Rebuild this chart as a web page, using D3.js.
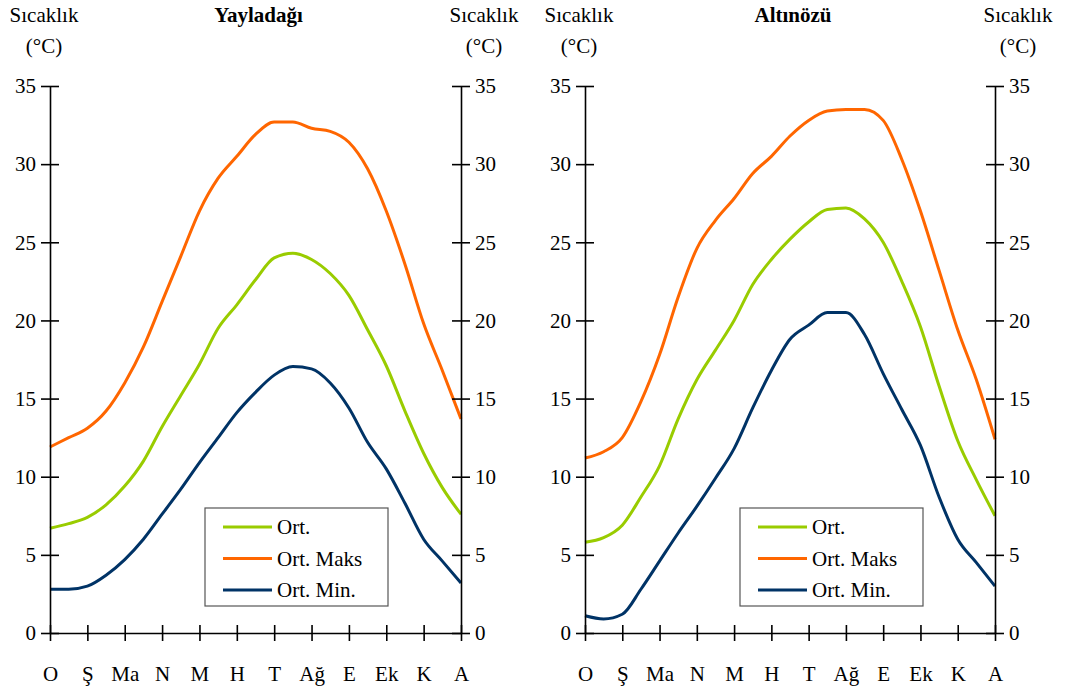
<!DOCTYPE html>
<html>
<head>
<meta charset="utf-8">
<script src="https://cdn.jsdelivr.net/npm/d3@7"></script>
<style>
  body { margin: 0; background: #fff; }
  svg text { font-family: "Liberation Serif", "DejaVu Serif", serif; fill: #000; }
</style>
</head>
<body>
<div id="chart"></div>
<script>
// month labels (x axis)
const months = ["O", "Ş", "Ma", "N", "M", "H", "T", "Ağ", "E", "Ek", "K", "A"];
const yTicks = [0, 5, 10, 15, 20, 25, 30, 35];

// half-month readings, from O to A
const yayOrt  = [6.7, 7.0, 7.4, 8.2, 9.4, 11.0, 13.2, 15.2, 17.2, 19.5, 21.0, 22.6, 24.0, 24.3, 23.9, 23.0, 21.6, 19.4, 17.1, 14.2, 11.5, 9.3, 7.6];
const yayMaks = [11.9, 12.5, 13.1, 14.2, 16.0, 18.3, 21.2, 24.1, 27.0, 29.1, 30.5, 31.9, 32.7, 32.7, 32.3, 32.1, 31.4, 29.7, 27.0, 23.6, 19.8, 16.8, 13.7];
const yayMin  = [2.8, 2.8, 3.0, 3.7, 4.7, 6.0, 7.6, 9.2, 10.9, 12.5, 14.1, 15.4, 16.5, 17.05, 16.9, 16.0, 14.4, 12.2, 10.5, 8.3, 6.0, 4.6, 3.2];

const altOrt  = [5.8, 6.1, 6.9, 8.7, 10.7, 13.7, 16.2, 18.1, 20.0, 22.3, 23.9, 25.2, 26.3, 27.1, 27.2, 26.5, 25.0, 22.5, 19.6, 15.8, 12.3, 9.8, 7.5];
const altMaks = [11.2, 11.6, 12.5, 14.8, 17.8, 21.5, 24.6, 26.4, 27.8, 29.4, 30.5, 31.8, 32.8, 33.4, 33.5, 33.5, 32.8, 30.3, 27.0, 23.2, 19.4, 16.2, 12.4];
const altMin  = [1.1, 0.9, 1.2, 2.8, 4.6, 6.4, 8.1, 9.9, 11.8, 14.4, 16.8, 18.8, 19.7, 20.5, 20.5, 19.1, 16.6, 14.3, 12.0, 8.7, 6.0, 4.5, 3.0];

const seriesNames = ["Ort.", "Ort. Maks", "Ort. Min."];
const colors = ["#99cc00", "#ff6600", "#003366"];

const width = 1066, height = 693;
const fontSize = "21px";
const svg = d3.select("#chart").append("svg")
  .attr("width", width)
  .attr("height", height);

const y = d3.scaleLinear().domain([0, 35]).range([633, 86]);

const drawPanel = (title, left, right, series) => {
  const x = d3.scaleLinear().domain([0, months.length - 1]).range([left, right]);
  const g = svg.append("g");

  // lines first, axes on top
  const line = d3.line()
    .x((d, i) => x(i / 2))
    .y(d => y(d))
    .curve(d3.curveMonotoneX);

  series.forEach((s, k) => {
    g.append("path")
      .datum(s)
      .attr("fill", "none")
      .attr("stroke", colors[k])
      .attr("stroke-width", 3)
      .attr("stroke-linejoin", "round")
      .attr("d", line);
  });

  // y axes on both sides, ticks cross the line
  const yLeft = g.append("g").attr("transform", `translate(${left},0)`)
    .call(d3.axisLeft(y).tickValues(yTicks).tickSizeInner(9).tickSizeOuter(0).tickPadding(5));
  yLeft.selectAll(".tick line").attr("x2", 9).attr("x1", -9);

  const yRight = g.append("g").attr("transform", `translate(${right},0)`)
    .call(d3.axisRight(y).tickValues(yTicks).tickSizeInner(9).tickSizeOuter(0).tickPadding(5));
  yRight.selectAll(".tick line").attr("x1", -9).attr("x2", 9);

  // x axis
  const xAxis = g.append("g").attr("transform", `translate(0,${y(0)})`)
    .call(d3.axisBottom(x).ticks(12).tickFormat(i => months[i]).tickSizeInner(8).tickSizeOuter(0).tickPadding(25));
  xAxis.selectAll(".tick line").attr("y1", -8).attr("y2", 8);

  g.selectAll(".domain").attr("stroke", "#000").attr("stroke-width", 1.6);
  g.selectAll(".tick line").attr("stroke", "#000").attr("stroke-width", 1.6);
  g.selectAll(".tick text").style("font-size", fontSize).attr("fill", "#000");
  [yLeft, yRight, xAxis].forEach(a => a.attr("font-family", null));
  yLeft.selectAll(".tick text").attr("dy", "0.32em");
  yRight.selectAll(".tick text").attr("dy", "0.32em");

  // axis titles
  [left - 6, right + 23].forEach(cx => {
    g.append("text").attr("x", cx).attr("y", 22).attr("text-anchor", "middle")
      .style("font-size", fontSize).text("Sıcaklık");
    g.append("text").attr("x", cx).attr("y", 53).attr("text-anchor", "middle")
      .style("font-size", fontSize).text("(°C)");
  });

  g.append("text").attr("x", (left + right) / 2 + 3).attr("y", 22)
    .attr("text-anchor", "middle")
    .style("font-size", fontSize).style("font-weight", "bold")
    .text(title);

  // legend
  const lg = g.append("g").attr("transform", `translate(${left + 155},508)`);
  lg.append("rect").attr("width", 183).attr("height", 98)
    .attr("fill", "#fff").attr("stroke", "#555").attr("stroke-width", 1.2);
  seriesNames.forEach((name, k) => {
    const ry = 19 + k * 31.5;
    lg.append("line").attr("x1", 18).attr("x2", 67).attr("y1", ry).attr("y2", ry)
      .attr("stroke", colors[k]).attr("stroke-width", 3);
    lg.append("text").attr("x", 72).attr("y", ry).attr("dy", "0.35em")
      .style("font-size", fontSize).text(name);
  });
};

drawPanel("Yayladağı", 50, 461, [yayOrt, yayMaks, yayMin]);
drawPanel("Altınözü", 585, 995, [altOrt, altMaks, altMin]);
</script>
</body>
</html>
